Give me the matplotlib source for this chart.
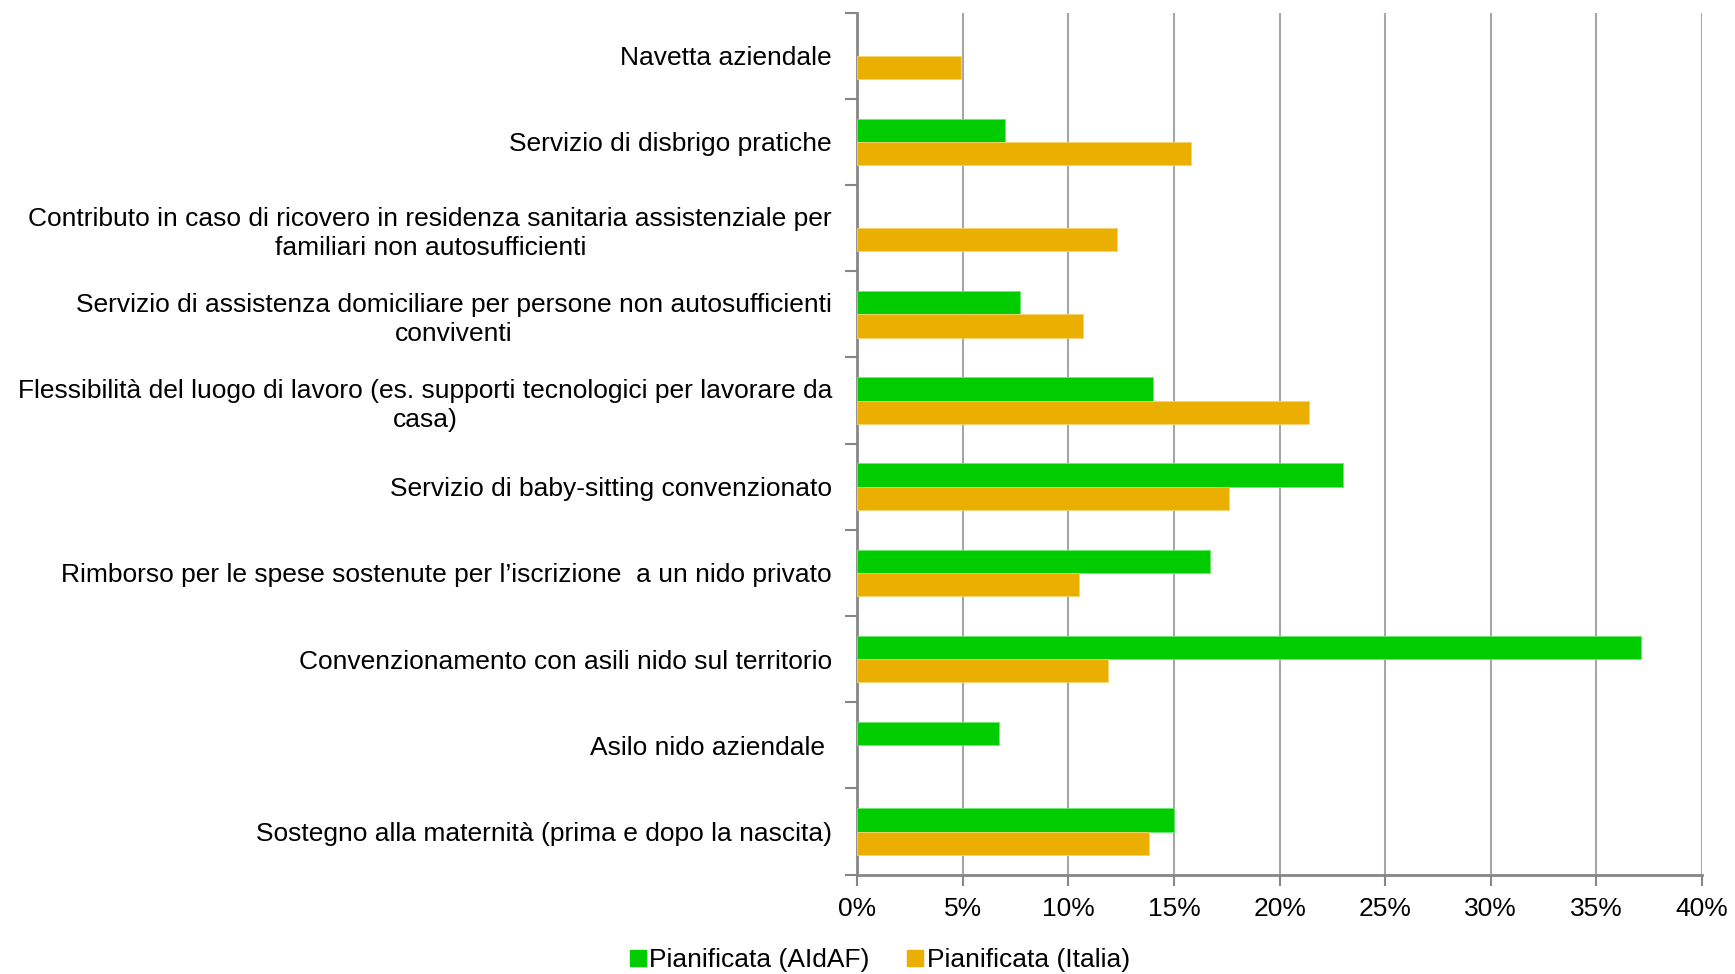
import numpy as np
import matplotlib
matplotlib.use("Agg")
import matplotlib.pyplot as plt
from matplotlib.lines import Line2D

plt.rcParams["font.family"] = ["Liberation Sans", "DejaVu Sans"]

# categories listed bottom to top
categories = [
    "Sostegno alla maternità (prima e dopo la nascita)",
    "Asilo nido aziendale ",
    "Convenzionamento con asili nido sul territorio",
    "Rimborso per le spese sostenute per l’iscrizione  a un nido privato",
    "Servizio di baby-sitting convenzionato",
    "Flessibilità del luogo di lavoro (es. supporti tecnologici per lavorare da\ncasa)",
    "Servizio di assistenza domiciliare per persone non autosufficienti\nconviventi",
    "Contributo in caso di ricovero in residenza sanitaria assistenziale per\nfamiliari non autosufficienti",
    "Servizio di disbrigo pratiche",
    "Navetta aziendale",
]
aidaf = [15.0, 6.7, 37.1, 16.7, 23.0, 14.0, 7.7, np.nan, 7.0, np.nan]
italia = [13.8, np.nan, 11.9, 10.5, 17.6, 21.4, 10.7, 12.3, 15.8, 4.9]
series_names = ["Pianificata (AIdAF)", "Pianificata (Italia)"]
xticks = [0, 5, 10, 15, 20, 25, 30, 35, 40]

green = "#00CC00"
orange = "#EAAF00"
axis_grey = "#868686"
grid_grey = "#A6A6A6"

fig = plt.figure(figsize=(17.35, 9.74), dpi=100)
ax = fig.add_axes([0.494, 0.102, 0.487, 0.885])

y = np.arange(len(categories))
h = 0.27
ax.barh(y + h / 2, aidaf, height=h, color=green, edgecolor="#6EE86E", linewidth=0.6, zorder=3)
ax.barh(y - h / 2, italia, height=h, color=orange, edgecolor="#F5D46E", linewidth=0.6, zorder=3)

ax.set_xlim(0, 40)
ax.set_ylim(-0.5, len(categories) - 0.5)

ax.set_xticks(xticks)
ax.set_xticklabels([f"{t}%" for t in xticks], fontsize=19)
ax.tick_params(axis="x", direction="out", length=8, width=1.5, color=axis_grey, pad=8)

# boundaries carry the ticks, centres carry the labels
ax.set_yticks(np.arange(len(categories) + 1) - 0.5)
ax.set_yticklabels([])
ax.set_yticks(y, categories, minor=True)
ax.tick_params(axis="y", which="major", direction="out", length=9, width=1.5, color=axis_grey)
ax.tick_params(axis="y", which="minor", length=0, pad=18, labelsize=19)
for lbl in ax.get_yticklabels(minor=True):
    lbl.set_multialignment("center")
    lbl.set_linespacing(1.28)

ax.grid(axis="x", color=grid_grey, linewidth=1.5, zorder=0)
ax.set_axisbelow(True)
for side in ["top", "right"]:
    ax.spines[side].set_visible(False)
for side in ["left", "bottom"]:
    ax.spines[side].set_color(axis_grey)
    ax.spines[side].set_linewidth(2)

handles = [
    Line2D([0], [0], marker="s", linestyle="None", markersize=11, color=green),
    Line2D([0], [0], marker="s", linestyle="None", markersize=11, color=orange),
]
fig.legend(handles, series_names, loc="center", bbox_to_anchor=(0.507, 0.014),
           ncol=2, frameon=False, fontsize=19, handlelength=0.6, handletextpad=0.15,
           columnspacing=1.4, borderpad=0)

fig.savefig("out.png", dpi=100, facecolor="white")
